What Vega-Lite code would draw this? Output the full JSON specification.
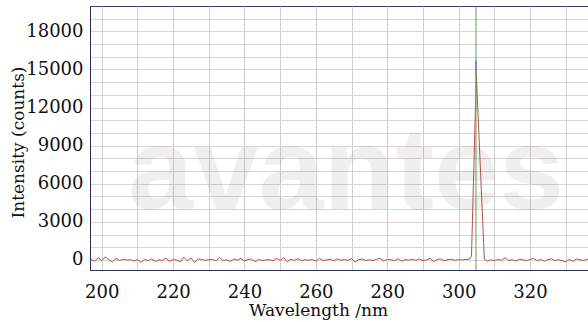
{
  "$schema": "https://vega.github.io/schema/vega-lite/v6.json",
  "width": 500,
  "height": 264,
  "autosize": "none",
  "padding": {"left": 90, "top": 6, "right": 0, "bottom": 52},
  "background": "#ffffff",
  "config": {
    "view": {"stroke": "#3a3a72", "strokeWidth": 1},
    "axis": {
      "labelFont": "DejaVu Serif",
      "labelFontSize": 18,
      "labelColor": "#111111",
      "titleFont": "DejaVu Serif",
      "titleFontSize": 17,
      "titleFontWeight": "normal",
      "titleColor": "#111111",
      "tickSize": 0,
      "labelOverlap": false,
      "labelFlush": false,
      "domainColor": "#2e2e55",
      "grid": true
    }
  },
  "datasets": {
    "spectrum": [
      {"wl": 197, "counts": 50}, {"wl": 198, "counts": -120}, {"wl": 199, "counts": 180}, {"wl": 200, "counts": -60},
      {"wl": 201, "counts": 240}, {"wl": 202, "counts": 20}, {"wl": 203, "counts": -150}, {"wl": 204, "counts": 120},
      {"wl": 205, "counts": -40}, {"wl": 206, "counts": 60}, {"wl": 207, "counts": -10}, {"wl": 208, "counts": 30},
      {"wl": 209, "counts": -90}, {"wl": 210, "counts": 20}, {"wl": 211, "counts": -180}, {"wl": 212, "counts": 40},
      {"wl": 213, "counts": -60}, {"wl": 214, "counts": 90}, {"wl": 215, "counts": -120}, {"wl": 216, "counts": 10},
      {"wl": 217, "counts": -40}, {"wl": 218, "counts": 150}, {"wl": 219, "counts": -110}, {"wl": 220, "counts": 30},
      {"wl": 221, "counts": -20}, {"wl": 222, "counts": -150}, {"wl": 223, "counts": 220}, {"wl": 224, "counts": -60},
      {"wl": 225, "counts": 160}, {"wl": 226, "counts": -200}, {"wl": 227, "counts": 90}, {"wl": 228, "counts": 40},
      {"wl": 229, "counts": -30}, {"wl": 230, "counts": 20}, {"wl": 231, "counts": 60}, {"wl": 232, "counts": -80},
      {"wl": 233, "counts": 210}, {"wl": 234, "counts": -40}, {"wl": 235, "counts": 0}, {"wl": 236, "counts": -120},
      {"wl": 237, "counts": 80}, {"wl": 238, "counts": -20}, {"wl": 239, "counts": 130}, {"wl": 240, "counts": -90},
      {"wl": 241, "counts": 40}, {"wl": 242, "counts": 70}, {"wl": 243, "counts": -130}, {"wl": 244, "counts": 30},
      {"wl": 245, "counts": -40}, {"wl": 246, "counts": -10}, {"wl": 247, "counts": 30}, {"wl": 248, "counts": -60},
      {"wl": 249, "counts": 120}, {"wl": 250, "counts": -30}, {"wl": 251, "counts": 180}, {"wl": 252, "counts": -150},
      {"wl": 253, "counts": 60}, {"wl": 254, "counts": -40}, {"wl": 255, "counts": 110}, {"wl": 256, "counts": -70},
      {"wl": 257, "counts": 20}, {"wl": 258, "counts": -10}, {"wl": 259, "counts": 40}, {"wl": 260, "counts": -100},
      {"wl": 261, "counts": 140}, {"wl": 262, "counts": -50}, {"wl": 263, "counts": 0}, {"wl": 264, "counts": 60},
      {"wl": 265, "counts": -80}, {"wl": 266, "counts": 90}, {"wl": 267, "counts": -20}, {"wl": 268, "counts": 40},
      {"wl": 269, "counts": -30}, {"wl": 270, "counts": 110}, {"wl": 271, "counts": -170}, {"wl": 272, "counts": 30},
      {"wl": 273, "counts": 80}, {"wl": 274, "counts": -40}, {"wl": 275, "counts": 10}, {"wl": 276, "counts": -50},
      {"wl": 277, "counts": 60}, {"wl": 278, "counts": 120}, {"wl": 279, "counts": -80}, {"wl": 280, "counts": 40},
      {"wl": 281, "counts": 20}, {"wl": 282, "counts": -60}, {"wl": 283, "counts": 100}, {"wl": 284, "counts": -100},
      {"wl": 285, "counts": 30}, {"wl": 286, "counts": -20}, {"wl": 287, "counts": 60}, {"wl": 288, "counts": -40},
      {"wl": 289, "counts": 90}, {"wl": 290, "counts": -60}, {"wl": 291, "counts": 10}, {"wl": 292, "counts": 130},
      {"wl": 293, "counts": -120}, {"wl": 294, "counts": 50}, {"wl": 295, "counts": 80}, {"wl": 296, "counts": -70},
      {"wl": 297, "counts": 20}, {"wl": 298, "counts": 60}, {"wl": 299, "counts": -30}, {"wl": 300, "counts": 30},
      {"wl": 301, "counts": 0}, {"wl": 302, "counts": 40}, {"wl": 303, "counts": 60}, {"wl": 303.6, "counts": 300},
      {"wl": 304.95, "counts": 14600}, {"wl": 307.2, "counts": 60}, {"wl": 308, "counts": -90}, {"wl": 309, "counts": 10},
      {"wl": 310, "counts": -60}, {"wl": 311, "counts": 40}, {"wl": 312, "counts": -20}, {"wl": 313, "counts": 180},
      {"wl": 314, "counts": -40}, {"wl": 315, "counts": 20}, {"wl": 316, "counts": -90}, {"wl": 317, "counts": 60},
      {"wl": 318, "counts": 10}, {"wl": 319, "counts": -50}, {"wl": 320, "counts": 30}, {"wl": 321, "counts": 120},
      {"wl": 322, "counts": -60}, {"wl": 323, "counts": 40}, {"wl": 324, "counts": -100}, {"wl": 325, "counts": 30},
      {"wl": 326, "counts": 90}, {"wl": 327, "counts": -40}, {"wl": 328, "counts": 20}, {"wl": 329, "counts": -60},
      {"wl": 330, "counts": -150}, {"wl": 331, "counts": 40}, {"wl": 332, "counts": -110}, {"wl": 333, "counts": 80},
      {"wl": 334, "counts": 10}, {"wl": 335, "counts": -40}, {"wl": 336, "counts": 60}, {"wl": 337, "counts": 20}
    ],
    "watermark": [{"wl": 268.5, "counts": 4000, "label": "avantes"}],
    "laser": [{"wl": 304.85, "lo": 14600, "hi": 15700}]
  },
  "encoding": {
    "x": {
      "field": "wl",
      "type": "quantitative",
      "scale": {"domain": [196.72, 336.8], "nice": false, "zero": false},
      "axis": {
        "values": [200, 210, 220, 230, 240, 250, 260, 270, 280, 290, 300, 310, 320, 330],
        "labelExpr": "datum.value % 20 === 0 ? datum.label : ''",
        "format": "d",
        "gridColor": "#cfcfcf",
        "labelPadding": 13,
        "title": "Wavelength /nm",
        "titleX": 228,
        "titleY": 32,
        "titleBaseline": "top",
        "titleAlign": "center"
      }
    },
    "y": {
      "field": "counts",
      "type": "quantitative",
      "scale": {"domain": [-790, 20000], "nice": false, "zero": false},
      "axis": {
        "values": [0, 1000, 2000, 3000, 4000, 5000, 6000, 7000, 8000, 9000, 10000, 11000, 12000, 13000, 14000, 15000, 16000, 17000, 18000, 19000],
        "labelExpr": "datum.value % 3000 === 0 ? datum.label : ''",
        "format": "d",
        "gridColor": "#ddd3d3",
        "labelPadding": 7,
        "title": "Intensity (counts)",
        "titleX": -72,
        "titleY": 136,
        "titleBaseline": "middle",
        "titleAlign": "center",
        "titleAngle": -90
      }
    }
  },
  "layer": [
    {
      "data": {"name": "watermark"},
      "mark": {"type": "text", "font": "Liberation Sans", "fontWeight": "bold", "fontSize": 117, "align": "center", "baseline": "alphabetic", "color": "#000000", "opacity": 0.06},
      "encoding": {"text": {"field": "label"}}
    },
    {
      "data": {"name": "spectrum"},
      "mark": {"type": "line", "color": "#b5514a", "strokeWidth": 1}
    },
    {
      "data": {"name": "laser"},
      "mark": {"type": "rule", "color": "#5f9e50", "strokeWidth": 1},
      "encoding": {"y": null}
    },
    {
      "data": {"name": "laser"},
      "mark": {"type": "rule", "color": "#5a7fc8", "strokeWidth": 1.5},
      "encoding": {"y": {"field": "lo", "type": "quantitative"}, "y2": {"field": "hi"}}
    }
  ]
}
